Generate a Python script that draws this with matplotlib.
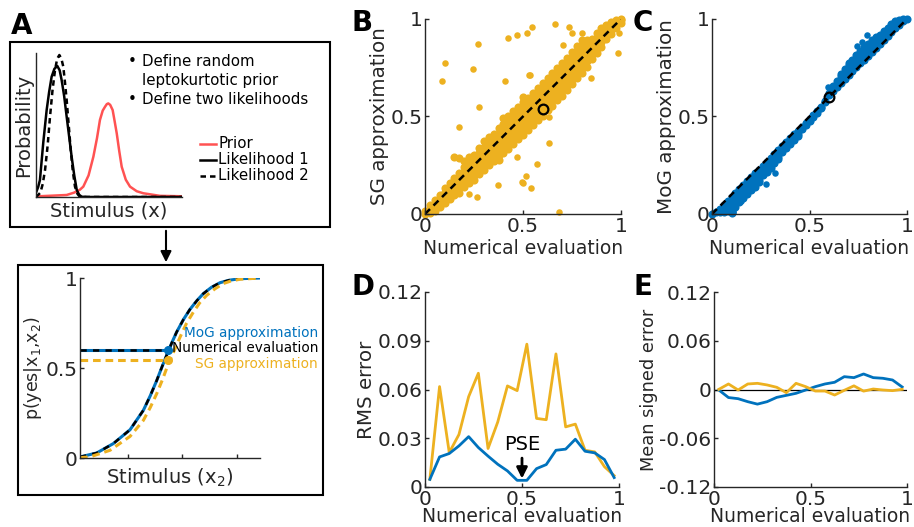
"""Approximation accuracy figure: SG vs MoG against numerical evaluation."""
import matplotlib
matplotlib.use("Agg")
import matplotlib.pyplot as plt
from matplotlib.patches import Rectangle, FancyArrowPatch

plt.rcParams["font.family"] = "DejaVu Sans"
plt.rcParams["axes.unicode_minus"] = False

ORANGE = "#EDB120"
BLUE = "#0072BD"
RED = "#FF5252"
INK = "#262626"
W, H = 914, 527
TICK = 14.5
XLAB = 13.5
YLAB = 14.3

# ---- panel A, top: prior and likelihoods ----
lik1_x = [0.0, 0.015, 0.027, 0.05, 0.073, 0.09, 0.107, 0.126, 0.146, 0.162, 0.176,
          0.193, 0.21, 0.227, 0.244, 0.262, 0.279, 0.296, 0.313, 0.35, 1.0]
lik1_y = [0.03, 0.07, 0.118, 0.38, 0.604, 0.73, 0.835, 0.89, 0.91, 0.88, 0.81,
          0.70, 0.558, 0.42, 0.28, 0.15, 0.049, 0.015, 0.002, 0.0, 0.0]
lik2_x = [0.0, 0.03, 0.046, 0.062, 0.08, 0.096, 0.113, 0.13, 0.145, 0.16, 0.174,
          0.187, 0.198, 0.21, 0.224, 0.238, 0.252, 0.267, 0.285, 0.30, 0.35, 1.0]
lik2_y = [0.0, 0.03, 0.09, 0.188, 0.36, 0.558, 0.74, 0.88, 0.96, 0.986, 0.96,
          0.905, 0.80, 0.674, 0.50, 0.326, 0.18, 0.072, 0.02, 0.002, 0.0, 0.0]
prior_x = [0.0, 0.21, 0.26, 0.30, 0.324, 0.36, 0.393, 0.418, 0.438, 0.457, 0.473,
           0.485, 0.495, 0.508, 0.525, 0.538, 0.553, 0.57, 0.587, 0.615, 0.644,
           0.69, 0.735, 0.849, 1.0]
prior_y = [0.004, 0.014, 0.03, 0.05, 0.072, 0.15, 0.28, 0.41, 0.535, 0.60, 0.627,
           0.645, 0.65, 0.64, 0.604, 0.53, 0.442, 0.32, 0.21, 0.12, 0.072,
           0.04, 0.026, 0.008, 0.005]

# ---- panel A, bottom: psychometric curves ----
num_curve_x = [0.0, 0.093, 0.185, 0.278, 0.352, 0.39, 0.426, 0.455, 0.481, 0.51,
               0.537, 0.575, 0.611, 0.65, 0.685, 0.73, 0.778, 0.83, 0.889, 1.0]
num_curve_y = [0.006, 0.028, 0.08, 0.157, 0.265, 0.345, 0.43, 0.505, 0.57, 0.64,
               0.70, 0.77, 0.826, 0.875, 0.913, 0.948, 0.974, 0.988, 0.996, 1.0]
mog_curve_y = [0.006, 0.028, 0.08, 0.157, 0.265, 0.345, 0.43, 0.505, 0.57, 0.64,
               0.70, 0.77, 0.826, 0.875, 0.913, 0.948, 0.974, 0.988, 0.996, 1.0]
sg_curve_x = [0.0, 0.055, 0.167, 0.278, 0.352, 0.39, 0.426, 0.46, 0.491, 0.525,
              0.556, 0.59, 0.63, 0.665, 0.704, 0.75, 0.796, 0.84, 0.889, 1.0]
sg_curve_y = [0.002, 0.006, 0.043, 0.12, 0.209, 0.28, 0.357, 0.44, 0.524, 0.60,
              0.672, 0.745, 0.811, 0.862, 0.904, 0.94, 0.969, 0.984, 0.993, 1.0]
pse_stim = 0.49
num_at_pse = 0.60
sg_at_pse = 0.547

# ---- panel B: SG approximation vs numerical evaluation ----
sg_rows = [
    (0.000, [0.000, 0.015]),
    (0.025, [0.005, 0.025, 0.045]),
    (0.050, [0.015, 0.035, 0.055, 0.070]),
    (0.075, [0.035, 0.055, 0.075, 0.095]),
    (0.100, [0.055, 0.075, 0.095, 0.115, 0.135]),
    (0.125, [0.075, 0.095, 0.120, 0.145, 0.160]),
    (0.150, [0.095, 0.115, 0.140, 0.165, 0.185, 0.290]),
    (0.175, [0.110, 0.135, 0.160, 0.185, 0.210, 0.285]),
    (0.200, [0.140, 0.165, 0.190, 0.215, 0.240, 0.270]),
    (0.225, [0.160, 0.185, 0.210, 0.235, 0.260, 0.290]),
    (0.250, [0.175, 0.200, 0.225, 0.250, 0.280, 0.305]),
    (0.275, [0.205, 0.230, 0.260, 0.290, 0.315, 0.340]),
    (0.300, [0.225, 0.255, 0.285, 0.315, 0.345, 0.375]),
    (0.325, [0.250, 0.280, 0.310, 0.335, 0.360, 0.395]),
    (0.350, [0.270, 0.300, 0.330, 0.355, 0.385, 0.410]),
    (0.375, [0.275, 0.300, 0.330, 0.360, 0.385, 0.410, 0.440]),
    (0.400, [0.315, 0.345, 0.375, 0.400, 0.430, 0.460, 0.490]),
    (0.425, [0.335, 0.365, 0.395, 0.420, 0.450, 0.475, 0.500]),
    (0.450, [0.360, 0.390, 0.420, 0.445, 0.475, 0.500, 0.530]),
    (0.475, [0.385, 0.415, 0.440, 0.470, 0.500, 0.525, 0.550]),
    (0.500, [0.405, 0.435, 0.460, 0.490, 0.520, 0.545, 0.575, 0.600]),
    (0.525, [0.430, 0.455, 0.485, 0.510, 0.540, 0.565, 0.595]),
    (0.550, [0.455, 0.480, 0.510, 0.540, 0.565, 0.595, 0.620]),
    (0.575, [0.480, 0.505, 0.535, 0.560, 0.590, 0.615, 0.645]),
    (0.600, [0.505, 0.530, 0.560, 0.590, 0.620, 0.645, 0.670]),
    (0.625, [0.535, 0.560, 0.590, 0.620, 0.645, 0.675, 0.700]),
    (0.650, [0.555, 0.585, 0.610, 0.640, 0.670, 0.695, 0.725]),
    (0.675, [0.585, 0.610, 0.640, 0.670, 0.700, 0.725, 0.750]),
    (0.700, [0.605, 0.635, 0.660, 0.690, 0.720, 0.745, 0.775]),
    (0.725, [0.635, 0.660, 0.690, 0.720, 0.750, 0.775, 0.800]),
    (0.750, [0.665, 0.690, 0.720, 0.750, 0.775, 0.805, 0.830]),
    (0.775, [0.695, 0.720, 0.750, 0.780, 0.805, 0.835, 0.860]),
    (0.800, [0.725, 0.750, 0.780, 0.810, 0.835, 0.865, 0.890]),
    (0.825, [0.755, 0.785, 0.810, 0.840, 0.865, 0.890]),
    (0.850, [0.795, 0.820, 0.850, 0.875, 0.900]),
    (0.875, [0.825, 0.850, 0.880, 0.905, 0.930]),
    (0.900, [0.855, 0.880, 0.910, 0.935, 0.955]),
    (0.925, [0.895, 0.920, 0.945, 0.970]),
    (0.950, [0.925, 0.945, 0.965, 0.985]),
    (0.975, [0.955, 0.975, 0.995]),
    (1.000, [0.980, 0.995, 1.000]),
]
sg_out_x = [0.088, 0.102, 0.243, 0.270, 0.422, 0.471, 0.522, 0.410, 0.277, 0.532,
            0.546, 0.663, 0.735, 0.800, 0.750, 0.706, 0.988, 0.986, 0.849, 0.536,
            0.175, 0.371, 0.468, 0.495, 0.223, 0.267, 0.634, 0.634, 0.571, 0.515,
            0.502, 0.542, 0.685]
sg_out_y = [0.680, 0.775, 0.742, 0.872, 0.904, 0.916, 0.927, 0.680, 0.548, 0.715,
            0.957, 0.974, 0.960, 0.927, 0.930, 0.867, 0.927, 0.826, 0.700, 0.715,
            0.447, 0.148, 0.290, 0.162, 0.104, 0.087, 0.497, 0.362, 0.258, 0.196,
            0.159, 0.131, 0.008]

# ---- panel C: MoG approximation vs numerical evaluation ----
mog_rows = [
    (0.000, [0.000]),
    (0.020, [0.008]),
    (0.040, [0.028, 0.010]),
    (0.060, [0.048, 0.030, 0.012]),
    (0.080, [0.068, 0.050, 0.032, 0.014]),
    (0.100, [0.088, 0.070, 0.052, 0.034, 0.016, 0.006]),
    (0.120, [0.108, 0.090, 0.072, 0.054, 0.038]),
    (0.140, [0.128, 0.110, 0.092, 0.074, 0.060]),
    (0.160, [0.148, 0.130, 0.112, 0.094, 0.080]),
    (0.180, [0.168, 0.150, 0.132, 0.114, 0.100]),
    (0.200, [0.188, 0.170, 0.152, 0.134, 0.122]),
    (0.220, [0.208, 0.190, 0.172, 0.154, 0.140]),
    (0.240, [0.228, 0.210, 0.192, 0.174, 0.162]),
    (0.260, [0.248, 0.230, 0.212, 0.198]),
    (0.280, [0.268, 0.250, 0.232, 0.216]),
    (0.300, [0.288, 0.270, 0.252, 0.238]),
    (0.320, [0.308, 0.290, 0.274, 0.260]),
    (0.340, [0.328, 0.310, 0.294, 0.284]),
    (0.360, [0.348, 0.330, 0.316]),
    (0.380, [0.368, 0.350, 0.338]),
    (0.400, [0.388, 0.370, 0.358]),
    (0.420, [0.408, 0.392, 0.380]),
    (0.440, [0.428, 0.412, 0.402]),
    (0.460, [0.448, 0.434]),
    (0.480, [0.468, 0.454]),
    (0.500, [0.488, 0.476]),
    (0.520, [0.508, 0.498]),
    (0.540, [0.528, 0.520]),
    (0.560, [0.550, 0.544]),
    (0.580, [0.572, 0.580]),
    (0.600, [0.612, 0.620]),
    (0.620, [0.632, 0.646, 0.658]),
    (0.640, [0.652, 0.668, 0.682]),
    (0.660, [0.672, 0.690, 0.706, 0.718]),
    (0.680, [0.692, 0.710, 0.726, 0.742]),
    (0.700, [0.712, 0.730, 0.746, 0.762, 0.772]),
    (0.720, [0.732, 0.750, 0.766, 0.782, 0.792]),
    (0.740, [0.752, 0.770, 0.786, 0.802, 0.814]),
    (0.760, [0.772, 0.790, 0.806, 0.822, 0.834]),
    (0.780, [0.792, 0.810, 0.826, 0.842, 0.854]),
    (0.800, [0.812, 0.830, 0.846, 0.862, 0.872]),
    (0.820, [0.832, 0.850, 0.866, 0.882, 0.892]),
    (0.840, [0.852, 0.870, 0.886, 0.900, 0.908]),
    (0.860, [0.872, 0.890, 0.906, 0.920]),
    (0.880, [0.892, 0.910, 0.926, 0.938]),
    (0.900, [0.912, 0.930, 0.944, 0.956]),
    (0.920, [0.932, 0.948, 0.962, 0.972]),
    (0.940, [0.952, 0.966, 0.980, 0.990]),
    (0.960, [0.970, 0.984, 0.994]),
    (0.980, [0.988, 0.998]),
    (1.000, [1.000]),
]
mog_out_x = [0.325, 0.277, 0.797, 0.596, 0.771, 0.742, 0.110, 0.150]
mog_out_y = [0.210, 0.153, 0.918, 0.651, 0.881, 0.864, 0.012, 0.065]

example_num = 0.60
example_sg = 0.54
example_mog = 0.60

# ---- panels D and E: binned errors ----
bins = [0.025, 0.075, 0.125, 0.175, 0.225, 0.275, 0.325, 0.375, 0.425, 0.475,
        0.525, 0.575, 0.625, 0.675, 0.725, 0.775, 0.825, 0.875, 0.925, 0.975]
rms_sg = [0.0047, 0.0618, 0.0212, 0.0323, 0.0556, 0.0700, 0.0237, 0.0400, 0.0622,
          0.0593, 0.0879, 0.0422, 0.0414, 0.0819, 0.0370, 0.0387, 0.0226, 0.0216,
          0.0125, 0.0070]
rms_mog = [0.0047, 0.0185, 0.0206, 0.0253, 0.0310, 0.0243, 0.0190, 0.0140, 0.0099,
           0.0041, 0.0041, 0.0113, 0.0138, 0.0226, 0.0233, 0.0294, 0.0220, 0.0210,
           0.0169, 0.0058]
bias_mog = [-0.0006, -0.0099, -0.0113, -0.0150, -0.0180, -0.0150, -0.0097, -0.0072,
            -0.0047, -0.0006, 0.0035, 0.0068, 0.0089, 0.0158, 0.0146, 0.0191,
            0.0146, 0.0138, 0.0117, 0.0031]
bias_sg = [0.0002, 0.0068, -0.0006, 0.0068, 0.0076, 0.0056, 0.0027, -0.0039, 0.0076,
           0.0035, -0.0019, -0.0019, -0.0068, -0.0010, 0.0045, -0.0020, 0.0006,
           -0.0006, -0.0014, 0.0002]


def flatten(rows):
    xs, ys = [], []
    for x, yl in rows:
        for y in yl:
            xs.append(x)
            ys.append(y)
    return xs, ys


fig = plt.figure(figsize=(W / 100, H / 100), dpi=100)


def px_axes(x0, y0, x1, y1):
    return fig.add_axes([x0 / W, 1 - y1 / H, (x1 - x0) / W, (y1 - y0) / H])


def ftext(x, y, s, **kw):
    return fig.text(x / W, 1 - y / H, s, **kw)


def style(ax, size=TICK):
    for s in ("top", "right"):
        ax.spines[s].set_visible(False)
    for s in ("left", "bottom"):
        ax.spines[s].set_color(INK)
        ax.spines[s].set_linewidth(1.0)
    ax.tick_params(direction="in", length=3, width=1, colors=INK, labelsize=size,
                   pad=2)
    ax.xaxis.label.set_color(INK)
    ax.yaxis.label.set_color(INK)


def unit_ticks(ax):
    ax.set_xlim(0, 1)
    ax.set_xticks([0, 0.5, 1])
    ax.set_xticklabels(["0", "0.5", "1"])


# boxes and arrow of panel A
fig.patches.append(Rectangle((10 / W, 1 - 227 / H), 320 / W, 185 / H, fill=False,
                             lw=1.5, ec="black", transform=fig.transFigure))
fig.patches.append(Rectangle((18 / W, 1 - 495 / H), 305 / W, 230 / H, fill=False,
                             lw=1.5, ec="black", transform=fig.transFigure))
fig.patches.append(FancyArrowPatch((166 / W, 1 - 228 / H), (166 / W, 1 - 265 / H),
                                   transform=fig.transFigure, arrowstyle="-|>",
                                   mutation_scale=16, lw=1.5, color="black"))

# A top
ax = px_axes(36, 53, 182, 197)
style(ax)
ax.plot(prior_x, prior_y, color=RED, lw=1.8)
ax.plot(lik1_x, lik1_y, color="black", lw=1.8)
ax.plot(lik2_x, lik2_y, color="black", lw=1.8, dashes=(2.2, 1.6))
ax.set_xlim(0, 1)
ax.set_ylim(0, 1)
ax.set_xticks([])
ax.set_yticks([])
ax.set_xlabel("Stimulus (x)", fontsize=14, labelpad=3)
ax.set_ylabel("Probability", fontsize=14, labelpad=2)

BF = 10.8
ftext(128, 61, "\u2022", fontsize=BF, va="center", ha="left")
ftext(142, 61, "Define random", fontsize=BF, va="center", ha="left")
ftext(142, 80, "leptokurtotic prior", fontsize=BF, va="center", ha="left")
ftext(128, 99, "\u2022", fontsize=BF, va="center", ha="left")
ftext(142, 99, "Define two likelihoods", fontsize=BF, va="center", ha="left")
for yy, lab, col, dash in [(144, "Prior", RED, None), (160, "Likelihood 1", "black", None),
                           (176, "Likelihood 2", "black", (2.2, 1.6))]:
    ln = plt.Line2D([200 / W, 216 / W], [1 - yy / H, 1 - yy / H], color=col, lw=1.8,
                    transform=fig.transFigure)
    if dash:
        ln.set_dashes(dash)
    fig.lines.append(ln)
    ftext(218, yy, lab, fontsize=BF, va="center", ha="left")

# A bottom
ax = px_axes(80, 278, 260, 458)
style(ax)
ax.plot(num_curve_x, mog_curve_y, color=BLUE, lw=2.2)
ax.plot(num_curve_x, num_curve_y, color="black", lw=1.8, dashes=(2.5, 2.5))
ax.plot(sg_curve_x, sg_curve_y, color=ORANGE, lw=2.2, dashes=(2.5, 1.6))
ax.plot([0, pse_stim], [num_at_pse, num_at_pse], color=BLUE, lw=2.2)
ax.plot([0, pse_stim], [num_at_pse, num_at_pse], color="black", lw=1.8, dashes=(2.5, 2.5))
ax.plot([0, pse_stim], [sg_at_pse, sg_at_pse], color=ORANGE, lw=2.2, dashes=(2.5, 1.6))
ax.plot([pse_stim], [num_at_pse], "o", color=BLUE, ms=5.5, zorder=5)
ax.plot([pse_stim], [sg_at_pse], "o", color=ORANGE, ms=5.5, zorder=5)
ax.set_xlim(0, 1)
ax.set_ylim(0, 1)
ax.set_xticks([0.265, 0.565, 0.872])
ax.set_xticklabels([])
ax.set_yticks([0, 0.5, 1])
ax.set_yticklabels(["0", "0.5", "1"])
ax.set_xlabel("Stimulus (x$_2$)", fontsize=14, labelpad=4)
ax.set_ylabel("p(yes|x$_1$,x$_2$)", fontsize=12.5, labelpad=1)
LF = 9.8
ftext(318, 333, "MoG approximation", fontsize=LF, color=BLUE, ha="right", va="center")
ftext(318, 348, "Numerical evaluation", fontsize=LF, color="black", ha="right", va="center")
ftext(318, 364, "SG approximation", fontsize=LF, color=ORANGE, ha="right", va="center")

# B
sx, sy = flatten(sg_rows)
ax = px_axes(425, 19, 621, 214)
style(ax)
ax.scatter(sx, sy, s=34, color=ORANGE, lw=0, clip_on=False)
ax.scatter(sg_out_x, sg_out_y, s=22, color=ORANGE, lw=0, clip_on=False)
ax.plot([0, 1], [0, 1], color="black", lw=1.8, dashes=(2.8, 2))
ax.plot([example_num], [example_sg], "o", mfc="none", mec="black", mew=1.6, ms=7)
unit_ticks(ax)
ax.set_ylim(0, 1)
ax.set_yticks([0, 0.5, 1])
ax.set_yticklabels(["0", "0.5", "1"])
ax.set_xlabel("Numerical evaluation", fontsize=XLAB, labelpad=2)
ax.set_ylabel("SG approximation", fontsize=YLAB, labelpad=1)

# C
mx, my = flatten(mog_rows)
ax = px_axes(712, 19, 907, 214)
style(ax)
ax.scatter(mx, my, s=34, color=BLUE, lw=0, clip_on=False)
ax.scatter(mog_out_x, mog_out_y, s=22, color=BLUE, lw=0, clip_on=False)
ax.plot([0, 1], [0, 1], color="black", lw=1.8, dashes=(2.8, 2))
ax.plot([example_num], [example_mog], "o", mfc="none", mec="black", mew=1.6, ms=7)
unit_ticks(ax)
ax.set_ylim(0, 1)
ax.set_yticks([0, 0.5, 1])
ax.set_yticklabels(["0", "0.5", "1"])
ax.set_xlabel("Numerical evaluation", fontsize=XLAB, labelpad=2)
ax.set_ylabel("MoG approximation", fontsize=YLAB, labelpad=1)

# D
ax = px_axes(425, 292, 619, 487)
style(ax)
ax.plot(bins, rms_sg, color=ORANGE, lw=2)
ax.plot(bins, rms_mog, color=BLUE, lw=2)
ax.annotate("", xy=(0.5, 0.0035), xytext=(0.5, 0.0195),
            arrowprops=dict(arrowstyle="-|>", color="black", lw=2, mutation_scale=16))
ax.text(0.5, 0.0205, "PSE", ha="center", va="bottom", fontsize=14, color="black")
unit_ticks(ax)
ax.set_ylim(0, 0.12)
ax.set_yticks([0, 0.03, 0.06, 0.09, 0.12])
ax.set_yticklabels(["0", "0.03", "0.06", "0.09", "0.12"])
ax.set_xlabel("Numerical evaluation", fontsize=XLAB, labelpad=-1)
ax.set_ylabel("RMS error", fontsize=YLAB, labelpad=1)

# E
ax = px_axes(714, 292, 907, 487)
style(ax)
ax.plot([0, 1], [0, 0], color="black", lw=0.9)
ax.plot(bins, bias_mog, color=BLUE, lw=2)
ax.plot(bins, bias_sg, color=ORANGE, lw=2)
unit_ticks(ax)
ax.set_ylim(-0.12, 0.12)
ax.set_yticks([-0.12, -0.06, 0, 0.06, 0.12])
ax.set_yticklabels(["-0.12", "-0.06", "0", "0.06", "0.12"])
ax.set_xlabel("Numerical evaluation", fontsize=XLAB, labelpad=-1)
ax.set_ylabel("Mean signed error", fontsize=12.8, labelpad=1)

# panel letters
for x, y, s in [(11, 12, "A"), (351, 9, "B"), (633, 9, "C"), (351, 273, "D"), (634, 273, "E")]:
    ftext(x, y, s, fontsize=20, fontweight="bold", va="top", ha="left")

fig.savefig("out.png", dpi=100, facecolor="white")
